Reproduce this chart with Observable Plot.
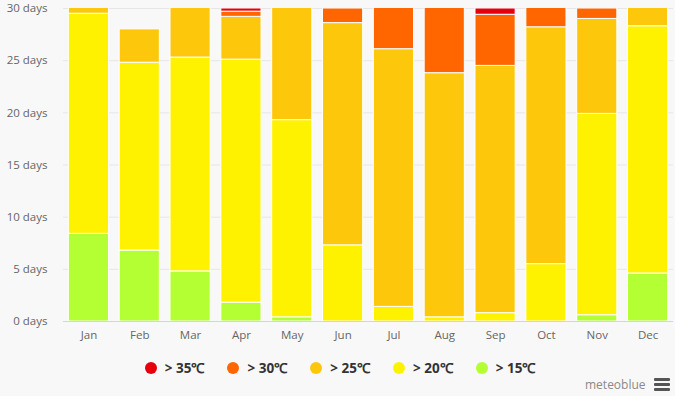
<!DOCTYPE html>
<html>
<head>
<meta charset="utf-8">
<script src="https://cdn.jsdelivr.net/npm/d3@7"></script>
<script src="https://cdn.jsdelivr.net/npm/@observablehq/plot@0.6"></script>
<style>
  html, body { margin: 0; padding: 0; background: #f8f8f8; }
  #wrap { position: relative; width: 675px; height: 396px; overflow: hidden; font-family: "Open Sans", sans-serif; }
  #legend { position: absolute; left: 144.7px; top: 359px; height: 18px; display: flex; align-items: center; }
  .item { display: flex; align-items: center; width: 82.75px; flex: none; font-size: 13.5px; font-weight: 700; color: #333; white-space: nowrap; }
  .dot { width: 12px; height: 12px; border-radius: 50%; margin-right: 8px; flex: none; }
  #brand { position: absolute; left: 585px; top: 376px; font-size: 12px; color: #8a8a8a; }
  #burger { position: absolute; left: 654px; top: 378px; width: 16px; }
  #burger div { height: 3px; background: #555; margin-bottom: 2px; border-radius: 1px; }
</style>
</head>
<body>
<div id="wrap">
  <div id="chart"></div>
  <div id="legend"></div>
  <div id="brand">meteoblue</div>
  <div id="burger"><div></div><div></div><div></div></div>
</div>
<script>
const months = ["Jan","Feb","Mar","Apr","May","Jun","Jul","Aug","Sep","Oct","Nov","Dec"];
const seriesNames = ["> 15℃", "> 20℃", "> 25℃", "> 30℃", "> 35℃"];
const seriesColors = ["#b4ff33", "#fff200", "#fdc70c", "#ff6600", "#e6000c"];
// days per month in each band (bottom to top)
const over15 = [8.4, 6.8, 4.8, 1.8, 0.4, 0, 0, 0, 0, 0, 0.6, 4.6];
const over20 = [21.1, 18.0, 20.5, 23.3, 18.9, 7.3, 1.4, 0.4, 0.8, 5.5, 19.3, 23.7];
const over25 = [1.5, 3.2, 5.7, 4.1, 11.7, 21.3, 24.7, 23.4, 23.7, 22.7, 9.1, 2.7];
const over30 = [0, 0, 0, 0.5, 0, 1.4, 4.9, 7.2, 4.9, 2.8, 1.0, 0];
const over35 = [0, 0, 0, 0.3, 0, 0, 0, 0, 0.6, 0, 0, 0];
const yTicks = [0, 5, 10, 15, 20, 25, 30];

const seriesValues = [over15, over20, over25, over30, over35];
const data = [];
months.forEach((m, i) => {
  seriesNames.forEach((s, k) => {
    data.push({month: m, series: s, value: seriesValues[k][i]});
  });
});

const chart = Plot.plot({
  width: 675,
  height: 345,
  marginTop: 8,
  marginBottom: 24,
  marginLeft: 63,
  marginRight: 2,
  style: {background: "transparent", fontFamily: "Open Sans, sans-serif", fontSize: "11.5px", color: "#666"},
  x: {domain: months, paddingInner: 0.21, paddingOuter: 0.105, round: false, label: null, tickSize: 0, tickPadding: 9},
  y: {domain: [0, 30], ticks: yTicks, tickFormat: d => d + " days", label: null, tickSize: 0, tickPadding: 16},
  color: {domain: seriesNames, range: seriesColors},
  marks: [
    Plot.gridY(yTicks, {stroke: "#e6e6e6", strokeOpacity: 1}),
    Plot.barY(data, Plot.stackY({order: seriesNames}, {x: "month", y: "value", fill: "series", stroke: "white", strokeWidth: 1, clip: true})),
    Plot.ruleY([0], {stroke: "#ccd6eb"})
  ]
});
document.getElementById("chart").appendChild(chart);

const legend = document.getElementById("legend");
[...seriesNames].reverse().forEach(s => {
  const k = seriesNames.indexOf(s);
  const item = document.createElement("div");
  item.className = "item";
  item.innerHTML = `<span class="dot" style="background:${seriesColors[k]}"></span><span>${s}</span>`;
  legend.appendChild(item);
});
</script>
</body>
</html>
